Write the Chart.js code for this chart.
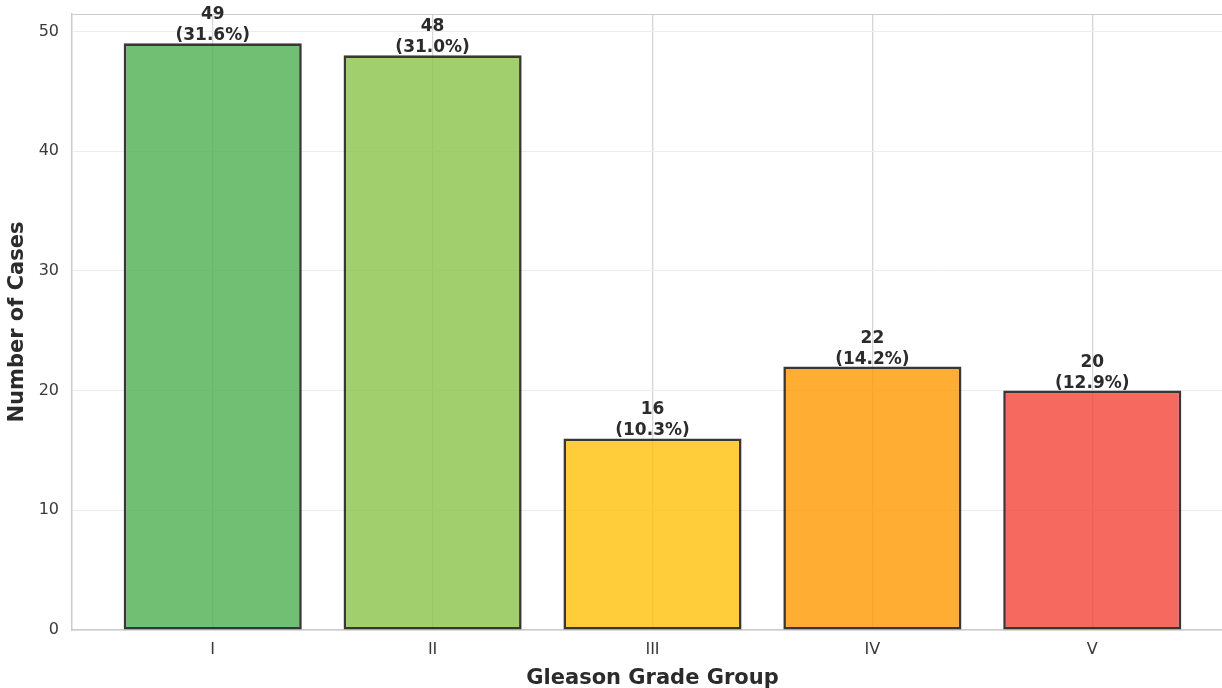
<!DOCTYPE html>
<html>
<head>
<meta charset="utf-8">
<script src="https://cdn.jsdelivr.net/npm/chart.js@4.4.1/dist/chart.umd.min.js"></script>
<style>
  body { margin: 0; background: #fff; overflow: hidden; }
  canvas { display: block; }
</style>
</head>
<body>
<!-- a bit wider than the window: the right edge of the axes is cut off like in the original -->
<canvas id="gleasonChart" width="1233" height="688"></canvas>
<script>
// data
const grades = ['I', 'II', 'III', 'IV', 'V'];
const cases = [49, 48, 16, 22, 20];
const percents = ['31.6%', '31.0%', '10.3%', '14.2%', '12.9%'];
const barColors = [
  'rgba(76, 175, 80, 0.8)',
  'rgba(139, 195, 74, 0.8)',
  'rgba(255, 193, 7, 0.8)',
  'rgba(255, 152, 0, 0.8)',
  'rgba(244, 67, 54, 0.8)'
];
const yTicks = [0, 10, 20, 30, 40, 50];
const yMax = 51.45;

const font = 'DejaVu Sans';

// count + percent on top of each bar
const barLabels = {
  id: 'barLabels',
  afterDatasetsDraw(chart) {
    const ctx = chart.ctx;
    const meta = chart.getDatasetMeta(0);
    ctx.save();
    ctx.fillStyle = '#2b2b2b';
    ctx.textAlign = 'center';
    ctx.textBaseline = 'alphabetic';
    ctx.font = 'bold 17px "' + font + '"';
    meta.data.forEach(function (bar, i) {
      ctx.fillText('(' + percents[i] + ')', bar.x, bar.y - 3);
      ctx.fillText(String(cases[i]), bar.x, bar.y - 24);
    });
    ctx.restore();
  }
};

let ctx = document.getElementById('gleasonChart').getContext('2d');
let chart = new Chart(ctx, {
  type: 'bar',
  data: {
    datasets: [{
      data: cases.map(function (v, i) { return { x: i, y: v }; }),
      backgroundColor: barColors,
      borderColor: 'rgba(20, 20, 20, 0.85)',
      borderWidth: 2.6,
      borderSkipped: false,
      barPercentage: 0.81,
      categoryPercentage: 1.0
    }]
  },
  options: {
    responsive: false,
    animation: false,
    layout: { padding: { left: 5, top: 14, right: 0, bottom: 0 } },
    plugins: {
      legend: { display: false },
      tooltip: { enabled: false }
    },
    scales: {
      x: {
        type: 'linear',
        offset: false,
        min: -0.64,
        max: 4.64,
        afterBuildTicks: function (scale) {
          scale.ticks = grades.map(function (g, i) { return { value: i }; });
        },
        afterFit: function (scale) {
          scale.height = 58;
          scale.paddingLeft = 0;
          scale.paddingRight = 0;
        },
        grid: { offset: false, color: '#d6d6d6', lineWidth: 1.3, drawTicks: false },
        border: { color: '#cccccc', width: 1.5 },
        ticks: {
          padding: 10,
          color: '#3a3a3a',
          font: { family: font, size: 16 },
          callback: function (v) { return grades[v]; }
        },
        title: {
          display: true,
          text: 'Gleason Grade Group',
          color: '#2b2b2b',
          padding: { top: 0, bottom: -3 },
          font: { family: font, size: 21, weight: 'bold' }
        }
      },
      y: {
        min: 0,
        max: yMax,
        afterBuildTicks: function (scale) {
          scale.ticks = yTicks.concat([yMax]).map(function (v) { return { value: v }; });
        },
        afterFit: function (scale) {
          scale.width = 67;
          scale.paddingTop = 0;
          scale.paddingBottom = 0;
        },
        grid: {
          drawTicks: false,
          lineWidth: 1,
          color: function (c) { return c.tick && c.tick.value === yMax ? '#cccccc' : '#ececec'; }
        },
        border: { color: '#cccccc', width: 1.5 },
        ticks: {
          padding: 13,
          color: '#3a3a3a',
          font: { family: font, size: 16 },
          callback: function (v) { return yTicks.includes(v) ? v : ''; }
        },
        title: {
          display: true,
          text: 'Number of Cases',
          color: '#2b2b2b',
          padding: 0,
          font: { family: font, size: 21, weight: 'bold' }
        }
      }
    }
  },
  plugins: [barLabels]
});
</script>
</body>
</html>
